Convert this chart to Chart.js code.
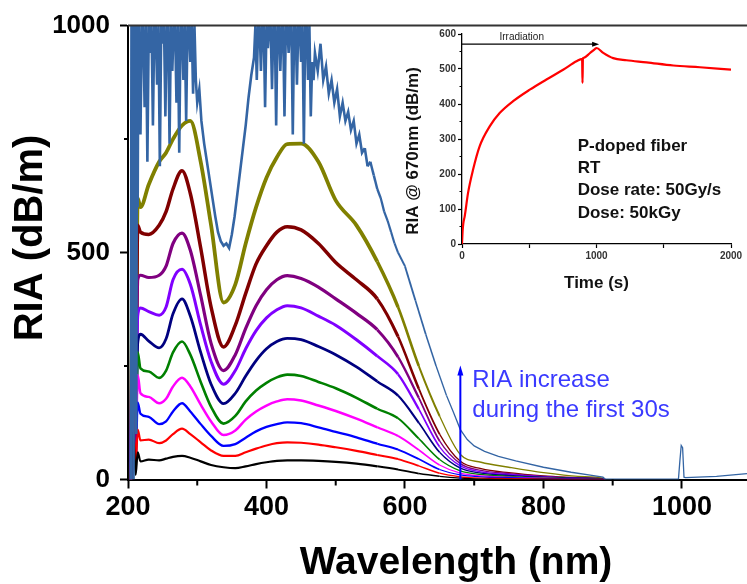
<!DOCTYPE html>
<html>
<head>
<meta charset="utf-8">
<script src="https://cdn.jsdelivr.net/npm/chart.js@4.4.1/dist/chart.umd.min.js"></script>
<style>
  html, body { margin: 0; padding: 0; background: #fff; overflow: hidden; }
  #wrap { position: relative; width: 747px; height: 584px; }
  #main { position: absolute; left: 0; top: 0; }
  #inset { position: absolute; left: 380px; top: 20px; }
</style>
</head>
<body>
<div id="wrap">
  <canvas id="main" width="747" height="584"></canvas>
  <canvas id="inset" width="367" height="280"></canvas>
</div>
<script>
Chart.defaults.font.family = "'Liberation Sans', Arial, sans-serif";
Chart.defaults.color = '#000';

/* ===== SPECTRA (RIA vs wavelength) ===== */
const wavelength = [204, 207, 211, 214, 218, 230, 245, 255, 265, 278, 290, 305, 320, 338, 355, 370, 385, 400,
  415, 430, 450, 475, 500, 530, 560, 590, 620, 650, 680, 710, 750, 800, 850, 886, 889];

const riaBlack = [0, 120, 10, 60, 40, 44, 42, 46, 50, 52, 48, 40, 32, 27, 25, 29, 34, 38,
  41, 42, 42, 41, 39, 35, 29, 22, 13, 7, 3, 1, 0, 0, 0, 0, 0];
const riaRed = [0, 200, 20, 110, 86, 88, 80, 86, 100, 112, 100, 82, 64, 52, 52, 60, 68, 75,
  80, 82, 81, 77, 71, 63, 54, 45, 30, 14, 6, 3, 2, 1, 0, 0, 0];
const riaBlue = [0, 260, 40, 170, 145, 138, 122, 128, 150, 168, 150, 122, 96, 74, 78, 92, 106, 116,
  122, 126, 124, 115, 105, 93, 79, 66, 45, 22, 10, 6, 4, 2, 1, 0, 0];
const riaMagenta = [0, 470, 60, 230, 190, 182, 168, 178, 205, 224, 205, 165, 128, 98, 108, 132, 150, 163,
  172, 177, 174, 163, 151, 134, 115, 96, 65, 32, 14, 8, 5, 3, 1, 0, 0];
const riaGreen = [0, 300, 80, 280, 245, 238, 224, 240, 280, 304, 275, 215, 160, 123, 140, 172, 196, 213,
  225, 231, 228, 215, 201, 180, 156, 135, 90, 44, 19, 11, 7, 4, 2, 1, 0];
const riaNavy = [0, 350, 90, 300, 320, 305, 290, 310, 365, 398, 360, 280, 210, 167, 190, 228, 262, 288,
  304, 311, 308, 293, 275, 248, 216, 185, 125, 60, 25, 14, 9, 5, 3, 1, 0];
const riaViolet = [0, 380, 120, 360, 378, 370, 362, 380, 440, 463, 430, 340, 260, 210, 240, 288, 328, 356,
  374, 383, 378, 360, 340, 308, 272, 232, 155, 72, 30, 17, 11, 6, 3, 1, 0];
const riaPurple = [0, 420, 150, 440, 450, 445, 450, 470, 520, 543, 505, 405, 300, 240, 275, 333, 383, 418,
  440, 449, 443, 424, 398, 366, 330, 270, 180, 85, 35, 20, 13, 7, 3, 1, 0];
const riaDarkRed = [0, 520, 180, 560, 545, 540, 560, 590, 640, 680, 630, 510, 380, 292, 340, 410, 475, 515,
  545, 557, 550, 520, 478, 440, 398, 315, 200, 100, 40, 24, 15, 8, 4, 1, 0];
const riaOlive = [0, 650, 200, 620, 600, 650, 700, 720, 750, 780, 790, 700, 560, 390, 430, 520, 600, 665,
  710, 739, 740, 700, 615, 560, 480, 380, 250, 140, 55, 38, 27, 15, 7, 3, 0];

// last spectrum, saturated and noisy, read on a finer grid
const wlTop = [204, 205, 206, 207, 208, 209, 210, 211, 212, 213, 214, 215,
  216, 218, 220, 222, 224, 226, 228, 230, 232, 234, 236, 238, 240, 242, 244, 246, 248, 250, 252, 254,
  256, 258, 260, 262, 264, 266, 268, 270, 272, 274, 276, 278, 280, 282, 284, 286, 288, 290, 292, 294,
  296, 298, 300, 303, 306, 310, 314, 318, 322, 326, 330, 334, 338, 342, 346, 350, 354, 358, 362, 366,
  370, 374, 378, 382, 384, 386, 388, 390, 392, 394, 396, 398, 400, 402, 404, 406, 408, 410, 412, 414,
  416, 418, 420, 422, 424, 426, 428, 430, 432, 434, 436, 438, 440, 442, 444, 446, 448, 450, 452, 454,
  456, 458, 460, 462, 464, 466, 468, 470, 474, 478, 482, 486, 490, 494, 498, 502, 506, 510, 514, 518,
  522, 526, 530, 534, 538, 542, 546, 550, 555, 560, 565, 570, 575, 580, 585, 590, 600, 615, 630, 645,
  660, 670, 680, 690, 700, 715, 735, 760, 800, 840, 870, 886, 889, 995, 997, 999, 1001, 1003, 1005,
  1050, 1094];
const riaTop = [0, 1000, 200, 1000, 0, 1000, 400, 1000, 100, 1000, 600, 1000,
  1000, 760, 1000, 1000, 820, 1000, 700, 1000, 940, 1000, 780, 1000, 1000, 870, 1000, 690, 1000, 960, 1000, 800,
  1000, 1000, 740, 1000, 900, 1000, 1000, 830, 1000, 720, 1000, 1000, 880, 1000, 790, 1000, 1000, 920, 1000, 850,
  1000, 880, 830, 860, 790, 740, 700, 660, 620, 580, 545, 525, 515, 520, 510, 540, 580, 630, 680, 730,
  780, 840, 890, 930, 1000, 880, 1000, 1000, 900, 1000, 1000, 820, 1000, 950, 1000, 1000, 860, 1000, 1000, 780,
  1000, 1000, 900, 1000, 1000, 800, 1000, 1000, 940, 1000, 1000, 760, 1000, 1000, 870, 1000, 1000, 920, 1000, 740,
  1000, 1000, 880, 1000, 800, 920, 880, 940, 900, 960, 880, 910, 850, 880, 830, 860, 800, 830, 790, 810,
  770, 790, 740, 760, 720, 730, 690, 700, 670, 640, 620, 590, 570, 545, 520, 500, 470, 395, 320, 250,
  185, 148, 110, 88, 74, 62, 51, 41, 27, 16, 9, 5, 1, 1, 40, 75, 70, 5, 4,
  7, 13];

const xMajor = [200, 400, 600, 800, 1000];
const xMinor = [300, 500, 700, 900];
const yMajor = [0, 500, 1000];
const yMinor = [250, 750];

const arrowWl = 680;
const arrowTop = 251;

/* ===== INSET (RIA @ 670 nm vs time) ===== */
const time = [0, 5, 10, 20, 45, 82, 131, 206, 280, 380, 504, 628, 752, 851, 893, 896, 899, 901,
  950, 988, 1000, 1050, 1124, 1223, 1372, 1571, 1769, 2000];
const ria670 = [0, 40, 60, 79, 146, 212, 279, 336, 374, 408, 441, 470, 498, 522, 529, 460, 530, 531,
  545, 557, 560, 546, 531, 525, 519, 510, 505, 498];
const irradiationSpan = [0, 975];
const irradiationLevel = 571;
const tTicks = [0, 500, 1000, 1500, 2000];
const tLabelled = [0, 1000, 2000];
const insetYMinor = [50, 150, 250, 350, 450, 550];
const notes = ['P-doped fiber', 'RT', 'Dose rate: 50Gy/s', 'Dose: 50kGy'];

// colour, x values, y values, line width
const spectra = [
  ['#3465a4', wlTop, riaTop, 2.6],
  ['#000000', wavelength, riaBlack, 2.2],
  ['#ff0000', wavelength, riaRed, 2.2],
  ['#0000ff', wavelength, riaBlue, 2.3],
  ['#ff00ff', wavelength, riaMagenta, 2.5],
  ['#008000', wavelength, riaGreen, 2.6],
  ['#000080', wavelength, riaNavy, 2.8],
  ['#8000ff', wavelength, riaViolet, 3],
  ['#800080', wavelength, riaPurple, 3.2],
  ['#800000', wavelength, riaDarkRed, 3.5],
  ['#808000', wavelength, riaOlive, 3.8],
];

const toPoints = (xs, ys) => xs.map((x, i) => ({ x, y: ys[i] }));

// noise band gets thinner towards the red end
const taper = (wl, w) => {
  if (wl <= 540) return w;
  if (wl >= 650) return 1.3;
  return w + (1.3 - w) * (wl - 540) / 110;
};

const mainDecor = {
  id: 'mainDecor',
  afterDatasetsDraw(chart) {
    const { ctx, chartArea: a, scales: { x, y } } = chart;
    ctx.save();
    ctx.strokeStyle = '#333';
    ctx.lineWidth = 2;
    ctx.beginPath();
    ctx.moveTo(a.left, a.top);
    ctx.lineTo(a.right, a.top);
    ctx.stroke();

    ctx.strokeStyle = '#000';
    ctx.beginPath();
    xMinor.forEach(v => {
      const px = x.getPixelForValue(v);
      ctx.moveTo(px, a.bottom);
      ctx.lineTo(px, a.bottom + 6);
    });
    yMinor.forEach(v => {
      const py = y.getPixelForValue(v);
      ctx.moveTo(a.left, py);
      ctx.lineTo(a.left - 4, py);
    });
    ctx.stroke();

    // arrow for the RIA growth
    const ax = x.getPixelForValue(arrowWl);
    const ay0 = y.getPixelForValue(0);
    const ay1 = y.getPixelForValue(arrowTop);
    ctx.strokeStyle = '#0000ff';
    ctx.fillStyle = '#0000ff';
    ctx.lineWidth = 2;
    ctx.beginPath();
    ctx.moveTo(ax, ay0);
    ctx.lineTo(ax, ay1 + 8);
    ctx.stroke();
    ctx.beginPath();
    ctx.moveTo(ax, ay1);
    ctx.lineTo(ax - 3, ay1 + 10);
    ctx.lineTo(ax + 3, ay1 + 10);
    ctx.closePath();
    ctx.fill();

    ctx.fillStyle = '#3a3aff';
    ctx.font = "24px 'Liberation Sans', Arial, sans-serif";
    ctx.textAlign = 'left';
    ctx.textBaseline = 'alphabetic';
    ctx.fillText('RIA increase', ax + 12, 387);
    ctx.fillText('during the first 30s', ax + 12, 417);

    ctx.fillStyle = '#000';
    ctx.font = "bold 39px 'Liberation Sans', Arial, sans-serif";
    ctx.textAlign = 'center';
    ctx.fillText('Wavelength (nm)', 456, 574);

    ctx.font = "bold 40px 'Liberation Sans', Arial, sans-serif";
    ctx.translate(42, 238);
    ctx.rotate(-Math.PI / 2);
    ctx.fillText('RIA (dB/m)', 0, 0);
    ctx.restore();
  }
};

new Chart(document.getElementById('main'), {
  type: 'line',
  data: {
    datasets: spectra.map(([color, xs, ys, w], i) => ({
      data: toPoints(xs, ys),
      borderColor: color,
      borderWidth: w,
      pointRadius: 0,
      cubicInterpolationMode: i === 0 ? 'default' : 'monotone',
      segment: {
        borderWidth: ctx => taper(ctx.p0.parsed.x, w),
      },
    })),
  },
  options: {
    responsive: false,
    animation: false,
    layout: { padding: { top: 20, left: 0, right: 0, bottom: 0 } },
    plugins: { legend: { display: false }, tooltip: { enabled: false } },
    scales: {
      x: {
        type: 'linear',
        min: 200,
        max: 1094,
        afterFit: s => { s.height = 104.5; },
        afterBuildTicks: s => { s.ticks = xMajor.map(v => ({ value: v })); },
        ticks: {
          font: { size: 27, weight: 'bold' },
          padding: 3,
          maxRotation: 0,
          color: '#000',
          callback: v => String(v),
        },
        grid: { drawOnChartArea: false, tickLength: 9, tickWidth: 2, tickColor: '#000' },
        border: { width: 2, color: '#000' },
      },
      y: {
        min: 0,
        max: 1000,
        afterFit: s => { s.width = 128; },
        afterBuildTicks: s => { s.ticks = yMajor.map(v => ({ value: v })); },
        ticks: {
          font: { size: 26, weight: 'bold' },
          padding: 10,
          color: '#000',
          callback: v => String(v),
        },
        grid: { drawOnChartArea: false, tickLength: 8, tickWidth: 2, tickColor: '#000' },
        border: { width: 2, color: '#000' },
      },
    },
  },
  plugins: [mainDecor],
});

const insetDecor = {
  id: 'insetDecor',
  afterDatasetsDraw(chart) {
    const { ctx, chartArea: a, scales: { x, y } } = chart;
    ctx.save();
    ctx.strokeStyle = '#000';
    ctx.lineWidth = 1.2;
    ctx.beginPath();
    insetYMinor.forEach(v => {
      const py = y.getPixelForValue(v);
      ctx.moveTo(a.left, py);
      ctx.lineTo(a.left - 2.5, py);
    });
    ctx.stroke();

    // arrowhead at the end of irradiation
    const ex = x.getPixelForValue(irradiationSpan[1]);
    const ey = y.getPixelForValue(irradiationLevel);
    ctx.fillStyle = '#000';
    ctx.beginPath();
    ctx.moveTo(ex + 6, ey);
    ctx.lineTo(ex - 1, ey - 2.5);
    ctx.lineTo(ex - 1, ey + 2.5);
    ctx.closePath();
    ctx.fill();

    ctx.font = "10px 'Liberation Sans', Arial, sans-serif";
    ctx.textAlign = 'center';
    ctx.textBaseline = 'alphabetic';
    ctx.fillStyle = '#222';
    ctx.fillText('Irradiation', x.getPixelForValue(444), ey - 4);

    ctx.fillStyle = '#111';
    ctx.font = "bold 17px 'Liberation Sans', Arial, sans-serif";
    ctx.textAlign = 'left';
    const nx = x.getPixelForValue(860);
    const ny = y.getPixelForValue(267);
    notes.forEach((t, i) => ctx.fillText(t, nx, ny + i * 22.4));

    ctx.textAlign = 'center';
    ctx.fillText('Time (s)', (a.left + a.right) / 2, a.bottom + 44);

    ctx.translate(a.left - 44, (a.top + a.bottom) / 2 + 12);
    ctx.rotate(-Math.PI / 2);
    ctx.fillText('RIA @ 670nm (dB/m)', 0, 0);
    ctx.restore();
  }
};

new Chart(document.getElementById('inset'), {
  type: 'line',
  data: {
    datasets: [
      {
        data: toPoints(time, ria670),
        borderColor: '#ff0000',
        borderWidth: 2.2,
        pointRadius: 0,
        cubicInterpolationMode: 'monotone',
      },
      {
        data: irradiationSpan.map(t => ({ x: t, y: irradiationLevel })),
        borderColor: '#000',
        borderWidth: 1.3,
        pointRadius: 0,
      },
    ],
  },
  options: {
    responsive: false,
    animation: false,
    layout: { padding: { top: 14, left: 0, right: 16, bottom: 0 } },
    plugins: { legend: { display: false }, tooltip: { enabled: false } },
    scales: {
      x: {
        type: 'linear',
        min: 0,
        max: 2000,
        afterFit: s => { s.height = 56; },
        afterBuildTicks: s => { s.ticks = tTicks.map(v => ({ value: v })); },
        ticks: {
          font: { size: 10, weight: 'bold' },
          padding: 2,
          maxRotation: 0,
          color: '#333',
          callback: v => (tLabelled.includes(v) ? String(v) : ''),
        },
        grid: { drawOnChartArea: false, tickLength: 4, tickWidth: 1.2, tickColor: '#000' },
        border: { width: 1.3, color: '#000' },
      },
      y: {
        min: 0,
        max: 600,
        afterFit: s => { s.width = 82; },
        ticks: {
          stepSize: 100,
          font: { size: 10, weight: 'bold' },
          padding: 2,
          color: '#333',
          callback: v => String(v),
        },
        grid: { drawOnChartArea: false, tickLength: 4, tickWidth: 1.2, tickColor: '#000' },
        border: { width: 1.3, color: '#000' },
      },
    },
  },
  plugins: [insetDecor],
});
</script>
</body>
</html>
